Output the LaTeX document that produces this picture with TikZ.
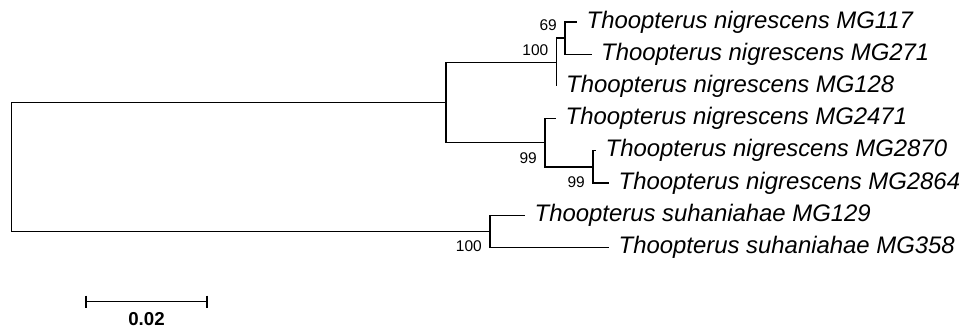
\documentclass[tikz,border=0pt]{standalone}
\usepackage{fontspec}
\setmainfont{Liberation Sans}
\begin{document}
\begin{tikzpicture}[x=1pt,y=-1pt,
  branch/.style={line width=1.3pt,line join=miter},
  leaf/.style={anchor=west,inner sep=0pt,xshift=9.5pt,
    font=\fontsize{23.9pt}{28pt}\selectfont\itshape},
  bootup/.style={anchor=east,inner sep=0pt,xshift=-8pt,yshift=12.5pt,
    font=\fontsize{15.5pt}{18pt}\selectfont},
  bootdown/.style={anchor=east,inner sep=0pt,xshift=-8pt,yshift=-15pt,
    font=\fontsize{15.5pt}{18pt}\selectfont},
  scalelabel/.style={inner sep=0pt,font=\fontsize{18.7pt}{22pt}\selectfont\bfseries}]
\useasboundingbox (0,0) rectangle (962,329);

% internal nodes
\coordinate (root) at (11.5,166.9);
\coordinate (A) at (446,102.5);
\coordinate (B) at (556.5,62.25);
\coordinate (C) at (565,38.1);
\coordinate (D) at (545,142.75);
\coordinate (E) at (593,166.9);
\coordinate (F) at (490,231.3);

% leaf tips
\coordinate (l117)  at (577,22);
\coordinate (l271)  at (591.5,54.2);
\coordinate (l128)  at (556.5,86.4);
\coordinate (l2471) at (556,118.6);
\coordinate (l2870) at (596,150.8);
\coordinate (l2864) at (609,183);
\coordinate (l129)  at (525,215.2);
\coordinate (l358)  at (609,247.4);

% branches
\draw[branch] (root) |- (A);
\draw[branch] (root) |- (F);
\draw[branch] (A) |- (B);
\draw[branch] (A) |- (D);
\draw[branch] (B) |- (C);
\draw[branch] (B) |- (l128);
\draw[branch] (C) |- (l117);
\draw[branch] (C) |- (l271);
\draw[branch] (D) |- (l2471);
\draw[branch] (D) |- (E);
\draw[branch] (E) |- (l2870);
\draw[branch] (E) |- (l2864);
\draw[branch] (F) |- (l129);
\draw[branch] (F) |- (l358);

% taxon labels
\node[leaf] (t117)  at (l117)  {Thoopterus nigrescens MG117};
\node[leaf] (t271)  at (l271)  {Thoopterus nigrescens MG271};
\node[leaf] (t128)  at (l128)  {Thoopterus nigrescens MG128};
\node[leaf] (t2471) at (l2471) {Thoopterus nigrescens MG2471};
\node[leaf] (t2870) at (l2870) {Thoopterus nigrescens MG2870};
\node[leaf] (t2864) at (l2864) {Thoopterus nigrescens MG2864};
\node[leaf] (t129)  at (l129)  {Thoopterus suhaniahae MG129};
\node[leaf] (t358)  at (l358)  {Thoopterus suhaniahae MG358};

% bootstrap support
\node[bootup]   (bC) at (C) {69};
\node[bootup]   (bB) at (B) {100};
\node[bootdown] (bD) at (D) {99};
\node[bootdown] (bE) at (E) {99};
\node[bootdown] (bF) at (F) {100};

% scale bar
\coordinate (s0) at (86,301.7);
\coordinate (s1) at (207,301.7);
\draw[branch] (s0) -- (s1);
\draw[branch] ([yshift=6pt]s0) -- ([yshift=-6pt]s0);
\draw[branch] ([yshift=6pt]s1) -- ([yshift=-6pt]s1);
\node[scalelabel] (slab) at (146.5,319) {0.02};
\end{tikzpicture}
\end{document}
